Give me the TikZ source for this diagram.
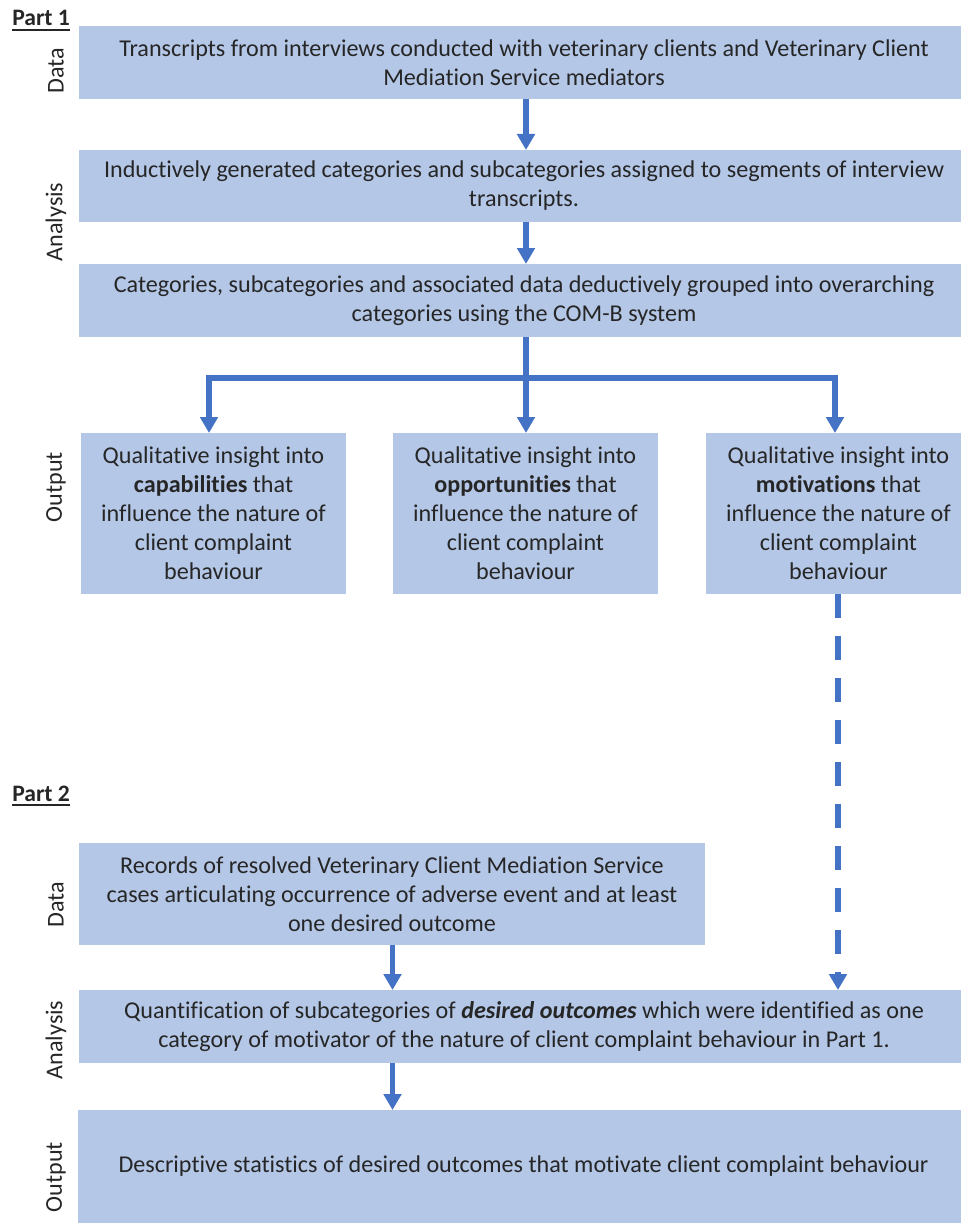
\documentclass[tikz,border=0pt]{standalone}
\usepackage{fontspec}
\setmainfont{Carlito}[Ligatures=NoCommon]
\usetikzlibrary{arrows.meta}
\definecolor{boxfill}{HTML}{B4C7E7}
\definecolor{arrblue}{HTML}{4472C4}
\definecolor{txt}{HTML}{262626}
\begin{document}
\begin{tikzpicture}[x=0.75pt,y=-0.75pt,
  every node/.style={text=txt,font=\fontsize{18.1pt}{21.75pt}\selectfont},
  box/.style={fill=boxfill,inner sep=0pt,outer sep=0pt,align=center},
  side/.style={rotate=90,inner sep=0pt},
  partlbl/.style={anchor=base west,inner sep=0pt,font=\fontsize{17.7pt}{21.75pt}\selectfont\bfseries},
  conn/.style={draw=arrblue,line width=3.9pt},
  arr/.style={conn,-{Triangle[width=13pt,length=12pt]}},
  dashline/.style={arr,dash pattern=on 18pt off 13.5pt}]
\useasboundingbox (0,0) rectangle (960,1223);
% Part 1
\node[partlbl] (p1) at (12,26) {Part 1};
\draw[txt,line width=1.6pt] ([yshift=-3.2pt]p1.base west) -- ([yshift=-3.2pt]p1.base east);
\node[box,minimum width=667.5pt,minimum height=54.75pt] (d1) at (524,62.5) {Transcripts from interviews conducted with veterinary clients and Veterinary Client\\Mediation Service mediators};
\node[box,minimum width=667.5pt,minimum height=54pt] (a1) at (524,186) {Inductively generated categories and subcategories assigned to segments of interview\\transcripts.};
\node[box,minimum width=667.5pt,minimum height=54.75pt] (a2) at (524,300.5) {Categories, subcategories and associated data deductively grouped into overarching\\categories using the COM-B system};
\node[box,minimum width=198.75pt,minimum height=120.75pt] (o1) at (213.5,513.5) {Qualitative insight into\\\textbf{capabilities} that\\influence the nature of\\client complaint\\behaviour};
\node[box,minimum width=198.75pt,minimum height=120.75pt] (o2) at (525.5,513.5) {Qualitative insight into\\\textbf{opportunities} that\\influence the nature of\\client complaint\\behaviour};
\node[box,minimum width=198.75pt,minimum height=120.75pt] (o3) at (838.5,513.5) {Qualitative insight into\\\textbf{motivations} that\\influence the nature of\\client complaint\\behaviour};
\node[side] (l1) at (56,71) {Data};
\node[side] (l2) at (56,222) {Analysis};
\node[side] (l3) at (56,487) {Output};
% connectors part 1
\coordinate (cx) at (526,0);
\coordinate (bl) at (209,378);
\coordinate (bm) at (526,378);
\coordinate (br) at (835,378);
\draw[arr] (d1.south -| cx) -- (a1.north -| cx);
\draw[arr] (a1.south -| cx) -- (a2.north -| cx);
\draw[conn] (a2.south -| cx) -- (bm);
\draw[conn,line cap=rect] (bl) -- (br);
\draw[arr] (bl) -- (o1.north -| bl);
\draw[arr] (bm) -- (o2.north -| bm);
\draw[arr] (br) -- (o3.north -| br);
% Part 2
\node[partlbl] (p2) at (12,801) {Part 2};
\draw[txt,line width=1.6pt] ([yshift=-3.2pt]p2.base west) -- ([yshift=-3.2pt]p2.base east);
\node[box,minimum width=469.5pt,minimum height=76.5pt] (d2) at (392,894) {Records of resolved Veterinary Client Mediation Service\\cases articulating occurrence of adverse event and at least\\one desired outcome};
\node[box,minimum width=667.5pt,minimum height=54.75pt] (a3) at (524,1026.5) {Quantification of subcategories of \textbf{\textit{desired outcomes}} which were identified as one\\category of motivator of the nature of client complaint behaviour in Part 1.};
\node[box,minimum width=668pt,minimum height=84.75pt] (o4) at (523.5,1166.5) {Descriptive statistics of desired outcomes that motivate client complaint behaviour};
\node[side] (l4) at (56,905) {Data};
\node[side] (l5) at (56,1040) {Analysis};
\node[side] (l6) at (56,1177) {Output};
\coordinate (dx) at (838,0);
\coordinate (ex) at (392.5,0);
\draw[dashline] (o3.south -| dx) -- (a3.north -| dx);
\draw[arr] (d2.south -| ex) -- (a3.north -| ex);
\draw[arr] (a3.south -| ex) -- (o4.north -| ex);
\end{tikzpicture}
\end{document}
